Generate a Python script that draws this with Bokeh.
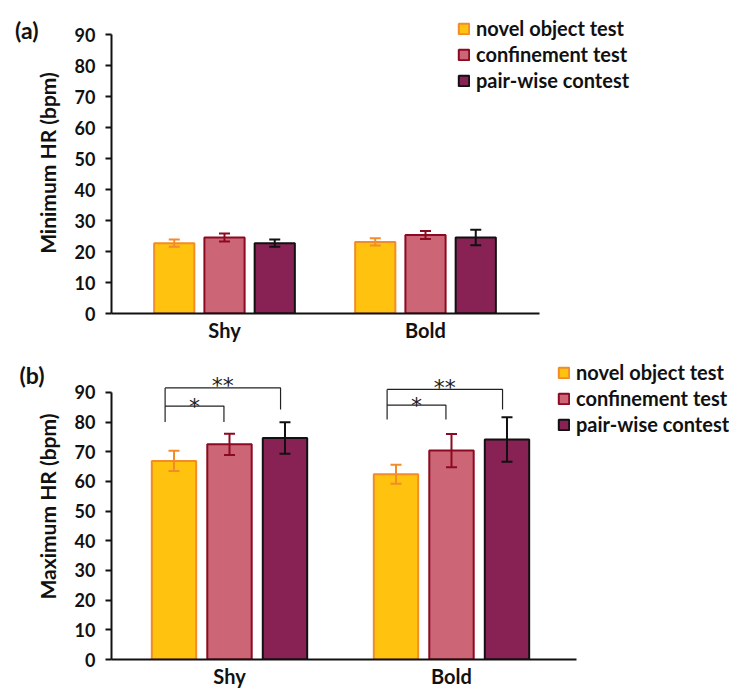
from bokeh.plotting import figure
from bokeh.models import (ColumnDataSource, Whisker, TeeHead, Legend, LegendItem,
                          LinearAxis, FixedTicker, Range1d)
from bokeh.layouts import column
from bokeh.embed import file_html
from bokeh.resources import INLINE
from bokeh.core.properties import value

# ---------------- data ----------------
groups = ["Shy", "Bold"]
tests = ["novel object test", "confinement test", "pair-wise contest"]

min_novel = [22.7, 23.1]
min_confine = [24.5, 25.3]
min_pair = [22.7, 24.5]
min_novel_err = [1.2, 1.2]
min_confine_err = [1.3, 1.3]
min_pair_err = [1.2, 2.5]

max_novel = [66.9, 62.4]
max_confine = [72.5, 70.4]
max_pair = [74.6, 74.1]
max_novel_err = [3.4, 3.2]
max_confine_err = [3.6, 5.6]
max_pair_err = [5.3, 7.5]

y_ticks = [0, 10, 20, 30, 40, 50, 60, 70, 80, 90]

# significance brackets (panel b): per group
sig_one = "*"
sig_two = "**"
sig_one_level = [85.4, 85.7]
sig_one_leg_bottom = [80.0, 80.9]
sig_two_level = [91.5, 91.0]
sig_two_leg_bottom = [84.2, 84.2]

# ---------------- style ----------------
FONT = "Lato"
INK = "#111111"
fills = ["#FFC20E", "#CC6677", "#882255"]
lines = ["#F28C28", "#8C0A21", "#111111"]
offsets = [-0.25, 0.0, 0.25]
BAR_W = 0.2


def make_panel(height, mb_left, mb_top, mb_bottom, x_range, y_end,
               x_axis_end, vals, errs, ylabel, tag, tag_y, tag_standoff,
               legend_loc):
    p = figure(width=729, height=height, output_backend="svg",
               toolbar_location=None, x_range=Range1d(*x_range),
               y_range=Range1d(0, y_end), min_border_left=mb_left,
               min_border_right=0, min_border_top=mb_top,
               min_border_bottom=mb_bottom)
    p.outline_line_color = None
    p.grid.visible = False

    items = []
    for i, t in enumerate(tests):
        xs = [g + offsets[i] for g in range(len(groups))]
        top = vals[i]
        src = ColumnDataSource(dict(x=xs, top=top,
                                    up=[a + b for a, b in zip(top, errs[i])],
                                    lo=[a - b for a, b in zip(top, errs[i])]))
        r = p.vbar(x="x", top="top", width=BAR_W, source=src,
                   fill_color=fills[i], line_color=lines[i], line_width=2)
        w = Whisker(source=src, base="x", upper="up", lower="lo",
                    dimension="height", line_color=lines[i], line_width=2,
                    level="annotation",
                    upper_head=TeeHead(size=11, line_color=lines[i], line_width=2),
                    lower_head=TeeHead(size=11, line_color=lines[i], line_width=2))
        p.add_layout(w)
        items.append(LegendItem(label=t, renderers=[r]))

    legend = Legend(items=items, location=legend_loc, padding=0, margin=0,
                    border_line_alpha=0, background_fill_alpha=0,
                    glyph_width=13, glyph_height=13, label_height=20,
                    spacing=2, label_standoff=6,
                    label_text_font=FONT, label_text_font_style="bold",
                    label_text_font_size="20px", label_text_color=INK)
    p.add_layout(legend, "center")

    # axes
    p.yaxis.ticker = FixedTicker(ticks=y_ticks)
    p.yaxis.bounds = (0, 90)
    p.yaxis.axis_line_width = 2
    p.yaxis.axis_line_color = INK
    p.yaxis.major_tick_line_width = 2
    p.yaxis.major_tick_line_color = INK
    p.yaxis.major_tick_out = 6
    p.yaxis.major_tick_in = 0
    p.yaxis.minor_tick_line_color = None
    p.yaxis.major_label_text_font = FONT
    p.yaxis.major_label_text_font_style = "bold"
    p.yaxis.major_label_text_font_size = "18px"
    p.yaxis.major_label_text_color = INK
    p.yaxis.major_label_standoff = 10
    p.yaxis.axis_label = ylabel
    p.yaxis.axis_label_text_font = FONT
    p.yaxis.axis_label_text_font_style = "bold"
    p.yaxis.axis_label_text_font_size = "21px"
    p.yaxis.axis_label_text_color = INK
    p.yaxis.axis_label_standoff = 12

    # panel tag "(a)"/"(b)" as the single tick label of an outer axis
    tag_axis = LinearAxis(ticker=FixedTicker(ticks=[tag_y]),
                          major_label_overrides={tag_y: tag},
                          axis_line_color=None, major_tick_line_color=None,
                          minor_tick_line_color=None, major_tick_out=0,
                          major_tick_in=0,
                          major_label_standoff=tag_standoff,
                          major_label_text_font=FONT,
                          major_label_text_font_style="bold",
                          major_label_text_font_size="23px",
                          major_label_text_color=INK)
    p.add_layout(tag_axis, "left")

    p.xaxis.ticker = FixedTicker(ticks=list(range(len(groups))))
    p.xaxis.major_label_overrides = {i: g for i, g in enumerate(groups)}
    p.xaxis.bounds = (x_range[0], x_axis_end)
    p.xaxis.axis_line_width = 2
    p.xaxis.axis_line_color = INK
    p.xaxis.major_tick_line_color = None
    p.xaxis.minor_tick_line_color = None
    p.xaxis.major_tick_out = 0
    p.xaxis.major_label_text_font = FONT
    p.xaxis.major_label_text_font_style = "bold"
    p.xaxis.major_label_text_font_size = "20px"
    p.xaxis.major_label_text_color = INK
    p.xaxis.major_label_standoff = 4
    return p


pa = make_panel(351, 111, 12, 38, (-0.5622, 2.5124), 97.1, 1.567,
                [min_novel, min_confine, min_pair],
                [min_novel_err, min_confine_err, min_pair_err],
                "Minimum HR (bpm)", "(a)", 91.3, -7, (346, 221))

pb = make_panel(346, 111, 2, 38, (-0.5315, 2.2523), 103.1, 1.563,
                [max_novel, max_confine, max_pair],
                [max_novel_err, max_confine_err, max_pair_err],
                "Maximum HR (bpm)", "(b)", 95.7, -13, (446, 223))

# brackets in panel b
L_OFF, R1_OFF, R2_OFF = -0.29, -0.025, 0.23
bxs, bys = [], []
tx1, ty1, tx2, ty2 = [], [], [], []
for g in range(len(groups)):
    lx, r1, r2 = g + L_OFF, g + R1_OFF, g + R2_OFF
    bxs += [[lx, lx], [lx, r1, r1], [lx, r2, r2]]
    bys += [[sig_one_leg_bottom[g], sig_two_level[g]],
            [sig_one_level[g], sig_one_level[g], sig_one_leg_bottom[g]],
            [sig_two_level[g], sig_two_level[g], sig_two_leg_bottom[g]]]
    tx1.append((lx + r1) / 2)
    ty1.append(sig_one_level[g])
    tx2.append((lx + r2) / 2)
    ty2.append(sig_two_level[g])
pb.multi_line(xs=bxs, ys=bys, line_color="#222222", line_width=1.2)
pb.text(x=tx1, y=ty1, text=[sig_one] * len(tx1), text_font=value("DejaVu Sans"),
        text_font_size="22px", text_align="center", text_baseline="middle",
        text_color="#222222", y_offset=0)
pb.text(x=tx2, y=ty2, text=[sig_two] * len(tx2), text_font=value("DejaVu Sans"),
        text_font_size="22px", text_align="center", text_baseline="middle",
        text_color="#222222", y_offset=-2)

layout = column(pa, pb, spacing=0)
open("out.html", "w").write(file_html(layout, INLINE))
